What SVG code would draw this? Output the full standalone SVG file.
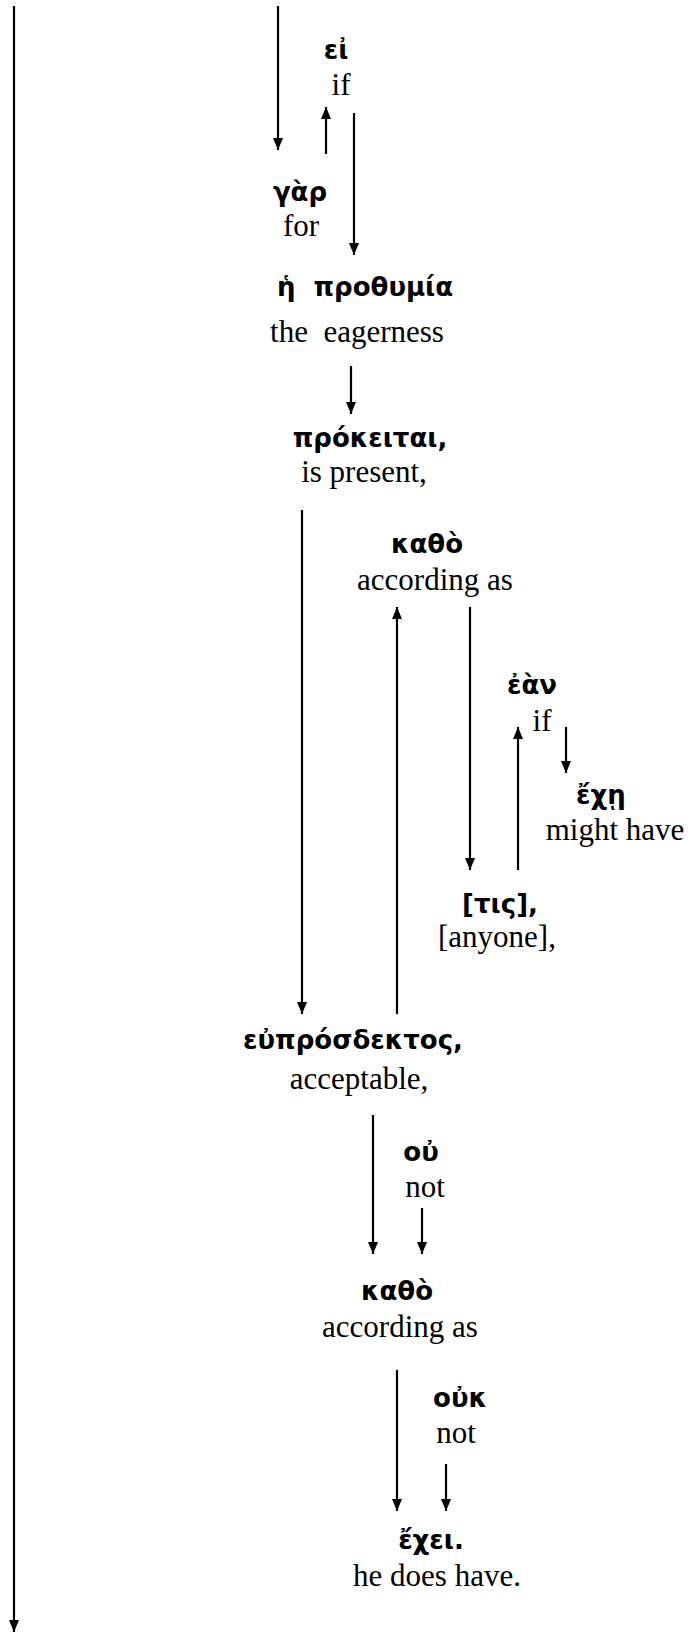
<svg xmlns="http://www.w3.org/2000/svg" width="691" height="1633" viewBox="0 0 691 1633">
<defs>
<marker id="ah" markerUnits="userSpaceOnUse" markerWidth="12" markerHeight="10" refX="12" refY="5" orient="auto" viewBox="0 0 12 10">
<path d="M0,0 L12,5 L0,10 z" fill="#000"/>
</marker>
<style>
.gk{font-family:"DejaVu Sans",sans-serif;font-weight:bold;font-size:26px;fill:#000;text-anchor:middle}
.en{font-family:"Liberation Serif",serif;font-size:31px;fill:#000;text-anchor:middle}
.c line{stroke:#000;stroke-width:2.2;fill:none}
</style>
</defs>
<rect width="691" height="1633" fill="#fff"/>
<g id="connectors" class="c">
<line x1="14" y1="6" x2="14" y2="1632" marker-end="url(#ah)"/>
<line x1="278" y1="6" x2="278" y2="150" marker-end="url(#ah)"/>
<line x1="326" y1="154" x2="326" y2="107" marker-end="url(#ah)"/>
<line x1="354" y1="113" x2="354" y2="255" marker-end="url(#ah)"/>
<line x1="351" y1="366" x2="351" y2="414" marker-end="url(#ah)"/>
<line x1="302" y1="510" x2="302" y2="1014" marker-end="url(#ah)"/>
<line x1="397" y1="1014" x2="397" y2="607" marker-end="url(#ah)"/>
<line x1="470" y1="607" x2="470" y2="870" marker-end="url(#ah)"/>
<line x1="518" y1="870" x2="518" y2="727" marker-end="url(#ah)"/>
<line x1="566" y1="727" x2="566" y2="773" marker-end="url(#ah)"/>
<line x1="373" y1="1115" x2="373" y2="1254" marker-end="url(#ah)"/>
<line x1="422" y1="1208" x2="422" y2="1254" marker-end="url(#ah)"/>
<line x1="397" y1="1370" x2="397" y2="1511" marker-end="url(#ah)"/>
<line x1="446" y1="1464" x2="446" y2="1511" marker-end="url(#ah)"/>
</g>
<g id="n-ei"><text class="gk" x="336" y="59">εἰ</text><text class="en" x="341" y="95">if</text></g>
<g id="n-gar"><text class="gk" x="300" y="201">γὰρ</text><text class="en" x="301" y="236">for</text></g>
<g id="n-prothymia"><text class="gk" x="365" y="296" xml:space="preserve">ἡ  προθυμία</text><text class="en" x="357" y="342" xml:space="preserve">the  eagerness</text></g>
<g id="n-prokeitai"><text class="gk" x="370" y="447">πρόκειται,</text><text class="en" x="364" y="482">is present,</text></g>
<g id="n-katho1"><text class="gk" x="427" y="553">καθὸ</text><text class="en" x="435" y="590">according as</text></g>
<g id="n-ean"><text class="gk" x="532" y="694">ἐὰν</text><text class="en" x="542" y="731">if</text></g>
<g id="n-eche"><text class="gk" x="601" y="804">ἔχῃ</text><text class="en" x="615" y="840">might have</text></g>
<g id="n-tis"><text class="gk" x="500" y="913">[τις],</text><text class="en" x="497" y="947">[anyone],</text></g>
<g id="n-euprosdektos"><text class="gk" x="353" y="1049">εὐπρόσδεκτος,</text><text class="en" x="359" y="1089">acceptable,</text></g>
<g id="n-ou"><text class="gk" x="421" y="1161">οὐ</text><text class="en" x="425" y="1197">not</text></g>
<g id="n-katho2"><text class="gk" x="397" y="1300">καθὸ</text><text class="en" x="400" y="1337">according as</text></g>
<g id="n-ouk"><text class="gk" x="460" y="1407">οὐκ</text><text class="en" x="456" y="1443">not</text></g>
<g id="n-echei"><text class="gk" x="431" y="1549">ἔχει.</text><text class="en" x="437" y="1586">he does have.</text></g>
</svg>
